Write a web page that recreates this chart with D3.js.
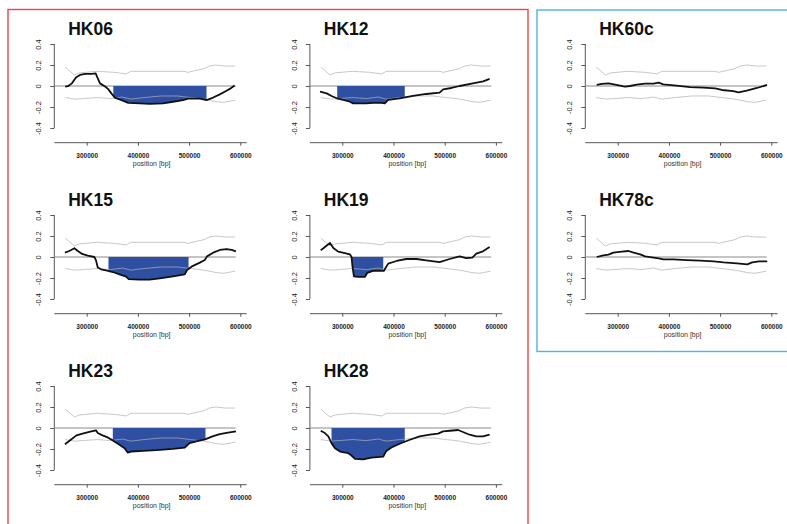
<!DOCTYPE html>
<html>
<head>
<meta charset="utf-8">
<script src="https://cdn.jsdelivr.net/npm/d3@7"></script>
<style>
  html, body { margin: 0; padding: 0; background: #fff; }
  svg { display: block; font-family: "Liberation Sans", Arial, Helvetica, sans-serif; }
</style>
</head>
<body>
<svg id="chart" width="787" height="524"></svg>
<script>
// ---------------- data ----------------
const panelNames = ["HK06", "HK12", "HK60c", "HK15", "HK19", "HK78c", "HK23", "HK28"];
const xTicks = [300000, 400000, 500000, 600000];
const xTickLabels = ["300000", "400000", "500000", "600000"];
const yTicks = [0.4, 0.2, 0, -0.2, -0.4];
const yTickLabels = ["0.4", "0.2", "0", "-0.2", "-0.4"];
const xAxisTitle = "position [bp]";

// shared significance envelope (grey lines)
const envUpperPos = [258000, 276000, 286000, 320000, 354000, 377000, 386000, 490000, 497000, 529000, 539000, 552000, 571000, 590000];
const envUpperVal = [0.18, 0.105, 0.125, 0.14, 0.13, 0.115, 0.14, 0.14, 0.13, 0.165, 0.19, 0.2, 0.19, 0.19];
const envLowerPos = [258000, 277000, 292000, 321000, 347000, 370000, 386000, 412000, 445000, 477000, 503000, 529000, 555000, 568000, 590000];
const envLowerVal = [-0.11, -0.125, -0.12, -0.11, -0.12, -0.105, -0.125, -0.11, -0.095, -0.095, -0.11, -0.125, -0.15, -0.155, -0.135];

// per-sample curves
const hk06Pos = [258000, 264000, 271000, 279000, 287000, 297000, 310000, 317500, 321000, 326000, 336000, 342000, 349000, 355000, 368000, 381000, 404000, 423000, 449000, 469000, 488000, 498000, 508000, 521000, 534000, 547000, 560000, 573000, 582000, 589000];
const hk06Val = [-0.005, 0, 0.025, 0.08, 0.105, 0.115, 0.115, 0.12, 0.08, 0.025, -0.005, -0.03, -0.075, -0.11, -0.135, -0.16, -0.165, -0.17, -0.165, -0.15, -0.135, -0.12, -0.12, -0.12, -0.135, -0.11, -0.08, -0.045, -0.02, 0.005];

const hk12Pos = [256500, 269500, 279000, 289000, 302000, 315000, 321000, 347000, 360000, 376600, 383000, 389600, 412000, 438000, 464000, 490000, 497000, 513000, 529000, 555000, 575000, 587700];
const hk12Val = [-0.054, -0.07, -0.095, -0.117, -0.133, -0.15, -0.165, -0.165, -0.16, -0.16, -0.165, -0.133, -0.117, -0.095, -0.076, -0.063, -0.032, -0.019, 0, 0.025, 0.044, 0.067];

const hk60cPos = [259000, 269000, 282000, 295000, 314000, 324000, 337000, 353500, 370000, 380000, 389000, 415000, 441500, 467600, 490500, 503500, 526000, 536000, 552000, 572000, 591600];
const hk60cVal = [0.01, 0.02, 0.025, 0.013, -0.006, 0, 0.013, 0.022, 0.022, 0.032, 0.016, 0.003, -0.01, -0.016, -0.022, -0.038, -0.048, -0.06, -0.044, -0.019, 0.01];

const hk15Pos = [257500, 266000, 276000, 282000, 291000, 302000, 315000, 318000, 321600, 328000, 338000, 351000, 364000, 377000, 382000, 403000, 423000, 442500, 468600, 491500, 496000, 504600, 521000, 530700, 535000, 547000, 560000, 573000, 583000, 591500];
const hk15Val = [0.041, 0.057, 0.083, 0.06, 0.029, 0.013, 0, -0.029, -0.1, -0.117, -0.127, -0.143, -0.165, -0.187, -0.21, -0.216, -0.216, -0.203, -0.184, -0.165, -0.124, -0.092, -0.054, -0.029, 0.006, 0.041, 0.067, 0.076, 0.067, 0.054];

const hk19Pos = [257800, 266000, 276000, 282500, 292000, 305000, 315000, 318000, 320000, 322700, 331000, 344000, 348700, 360000, 373000, 381000, 385000, 389600, 405800, 425000, 444800, 464000, 490000, 509700, 529000, 542000, 554000, 561700, 574700, 587700];
const hk19Val = [0.063, 0.095, 0.133, 0.086, 0.051, 0.038, 0.025, 0, -0.095, -0.184, -0.19, -0.19, -0.152, -0.133, -0.133, -0.133, -0.1, -0.063, -0.038, -0.019, -0.019, -0.032, -0.048, -0.019, 0.006, -0.01, -0.006, 0.032, 0.054, 0.095];

const hk78cPos = [259000, 272000, 282000, 291500, 308000, 321000, 331000, 344000, 353600, 366700, 380000, 389500, 409000, 435000, 461000, 487600, 507000, 533000, 553000, 562700, 575800, 592000];
const hk78cVal = [0, 0.016, 0.022, 0.041, 0.051, 0.057, 0.041, 0.025, 0.006, -0.003, -0.013, -0.022, -0.022, -0.029, -0.035, -0.041, -0.051, -0.06, -0.07, -0.051, -0.041, -0.041];

const hk23Pos = [257500, 269000, 280000, 292000, 305000, 318000, 321600, 331000, 341000, 351000, 364000, 374000, 380000, 387000, 410000, 436000, 468600, 491500, 501000, 514000, 531000, 547000, 560000, 576000, 591500];
const hk23Val = [-0.154, -0.112, -0.07, -0.054, -0.038, -0.022, -0.048, -0.07, -0.09, -0.118, -0.16, -0.192, -0.234, -0.224, -0.218, -0.211, -0.198, -0.186, -0.144, -0.128, -0.109, -0.077, -0.058, -0.045, -0.032];

const hk28Pos = [257800, 266000, 272700, 279000, 285700, 295500, 311700, 318000, 324700, 341000, 357000, 380000, 386000, 396000, 412000, 432000, 451000, 471000, 487000, 497000, 510000, 526000, 535700, 548700, 561700, 574700, 587700];
const hk28Val = [-0.026, -0.048, -0.08, -0.144, -0.192, -0.224, -0.24, -0.262, -0.294, -0.298, -0.282, -0.272, -0.218, -0.186, -0.15, -0.112, -0.08, -0.064, -0.054, -0.032, -0.026, -0.019, -0.038, -0.064, -0.08, -0.08, -0.064];

const curvePositions = [hk06Pos, hk12Pos, hk60cPos, hk15Pos, hk19Pos, hk78cPos, hk23Pos, hk28Pos];
const curveValues = [hk06Val, hk12Val, hk60cVal, hk15Val, hk19Val, hk78cVal, hk23Val, hk28Val];

// highlighted (filled) regions, null = none
const fillStart = [352000, 290000, null, 342500, 318000, null, 351000, 279000];
const fillEnd   = [534000, 422000, null, 499000, 380000, null, 532000, 422000];

// ---------------- layout ----------------
const colX = [86.7, 342.3, 617.7];   // pixel of 300000 tick per column
const rowZero = [86, 257, 428];      // pixel of y = 0 per row
const pxPer100k = 51.2;
const halfY = 42;                    // px from 0 to 0.4

const svg = d3.select("#chart");

// group boxes
svg.append("rect").attr("x", 8).attr("y", 9.5).attr("width", 520).attr("height", 530)
  .attr("fill", "none").attr("stroke", "#e8464a").attr("stroke-width", 1.4);
svg.append("rect").attr("x", 537).attr("y", 10).attr("width", 260).attr("height", 341.5)
  .attr("fill", "none").attr("stroke", "#4db4e4").attr("stroke-width", 1.4);

panelNames.forEach((name, i) => {
  const col = i % 3, row = Math.floor(i / 3);
  const cx = colX[col], zy = rowZero[row];
  const x = d3.scaleLinear().domain([300000, 600000]).range([cx, cx + 3 * pxPer100k]);
  const y = d3.scaleLinear().domain([-0.4, 0.4]).range([zy + halfY, zy - halfY]);
  const g = svg.append("g");
  const axisX = cx - 32.4;
  const xAxisY = zy + 56.7;

  // title
  g.append("text").attr("x", cx - 18.5).attr("y", zy - 51)
    .attr("font-size", 17.5).attr("font-weight", "bold").attr("fill", "#111").text(name);

  // y axis
  const yAx = g.append("g").attr("transform", `translate(${axisX},0)`)
    .call(d3.axisLeft(y).tickValues(yTicks).tickSize(4).tickFormat((d, k) => yTickLabels[k]));
  yAx.select(".domain").attr("d", `M0,${y(0.4)}V${y(-0.4)}`).attr("stroke", "#444").attr("stroke-width", 0.9);
  yAx.selectAll(".tick line").attr("stroke", "#444").attr("stroke-width", 0.9);
  yAx.selectAll(".tick text")
    .attr("transform", "translate(-16,0) rotate(-90)")
    .attr("x", 0).attr("y", 0).attr("dy", "0.35em")
    .attr("text-anchor", "middle").attr("font-size", 7.5).attr("fill", "#222")
    .attr("font-family", "'Liberation Sans', Arial, sans-serif");

  // x axis
  const xAx = g.append("g").attr("transform", `translate(0,${xAxisY})`)
    .call(d3.axisBottom(x).tickValues(xTicks).tickSize(3).tickFormat((d, k) => xTickLabels[k]));
  xAx.select(".domain").attr("d", `M${axisX},0H${cx + 160}`).attr("stroke", "#444").attr("stroke-width", 0.9);
  xAx.selectAll(".tick line").attr("stroke", "#444").attr("stroke-width", 0.9);
  xAx.selectAll(".tick text").attr("y", 15.6).attr("dy", 0)
    .attr("font-size", 6.5).attr("font-weight", "bold").attr("fill", "#222")
    .attr("font-family", "'Liberation Sans', Arial, sans-serif");
  g.append("text").attr("x", cx + 65).attr("y", zy + 79.5).attr("text-anchor", "middle")
    .attr("font-size", 7).attr("fill", "#333").text(xAxisTitle);

  // zero line
  g.append("line").attr("x1", axisX).attr("x2", x(591000)).attr("y1", y(0)).attr("y2", y(0))
    .attr("stroke", "#8a8a8a").attr("stroke-width", 1);

  const pts = curvePositions[i].map((p, k) => [p, curveValues[i][k]]);

  // filled region
  if (fillStart[i] !== null) {
    const clipId = "clip" + i;
    g.append("clipPath").attr("id", clipId).append("rect")
      .attr("x", x(fillStart[i])).attr("y", y(0.4)).attr("width", x(fillEnd[i]) - x(fillStart[i])).attr("height", y(-0.4) - y(0.4));
    g.append("path").datum(pts)
      .attr("clip-path", `url(#${clipId})`)
      .attr("d", d3.area().x(d => x(d[0])).y0(y(0)).y1(d => y(d[1])))
      .attr("fill", "#2f4fa3").attr("stroke", "none");
  }

  // envelope lines
  const env = d3.line().x(d => x(d[0])).y(d => y(d[1]));
  g.append("path").datum(envUpperPos.map((p, k) => [p, envUpperVal[k]]))
    .attr("d", env).attr("fill", "none").attr("stroke", "#b0b0b0").attr("stroke-opacity", 0.7).attr("stroke-width", 1);
  g.append("path").datum(envLowerPos.map((p, k) => [p, envLowerVal[k]]))
    .attr("d", env).attr("fill", "none").attr("stroke", "#b0b0b0").attr("stroke-opacity", 0.7).attr("stroke-width", 1);

  // data curve
  g.append("path").datum(pts)
    .attr("d", d3.line().x(d => x(d[0])).y(d => y(d[1])))
    .attr("fill", "none").attr("stroke", "#111").attr("stroke-width", 1.8).attr("stroke-linejoin", "round");
});
</script>
</body>
</html>
